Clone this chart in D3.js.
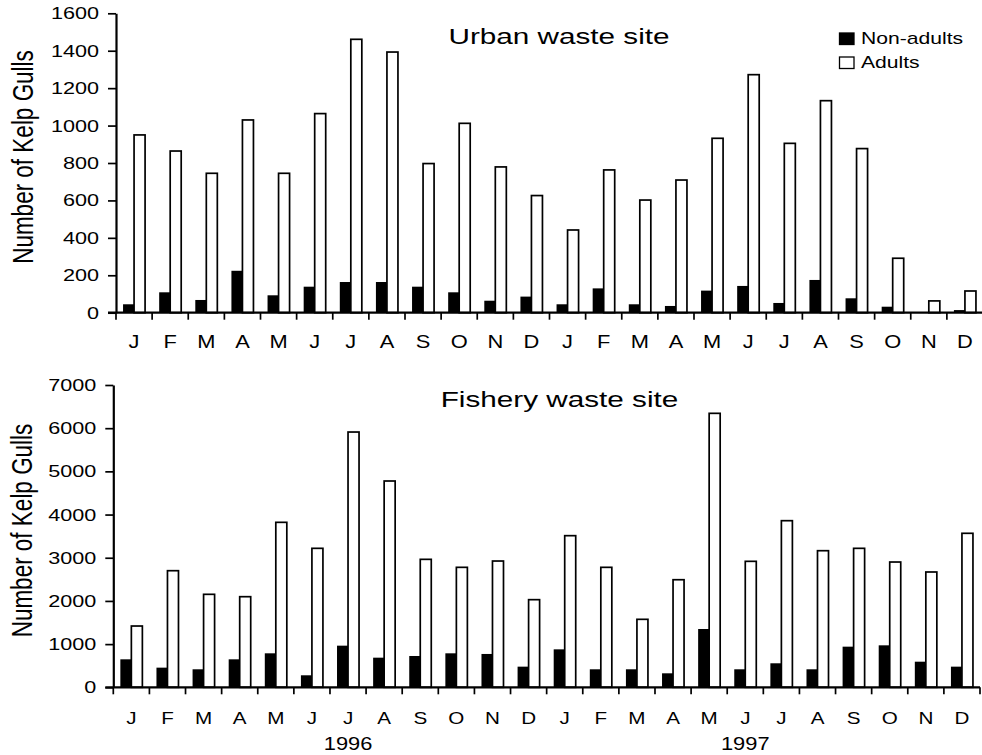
<!DOCTYPE html>
<html>
<head>
<meta charset="utf-8">
<script src="https://cdn.jsdelivr.net/npm/d3@7"></script>
<style>
  body { margin: 0; background: #fff; }
  svg { display: block; font-family: "Liberation Sans", Arial, sans-serif; }
</style>
</head>
<body>
<svg width="982" height="755"></svg>
<script>
// months over two years (1996, 1997)
var months = ["J","F","M","A","M","J","J","A","S","O","N","D",
              "J","F","M","A","M","J","J","A","S","O","N","D"];
var series = ["Non-adults", "Adults"];

var urbanNonAdults = [45,109,68,224,93,139,164,164,139,109,64,86,
                      45,130,45,36,118,143,52,175,77,32,0,14];
var urbanAdults = [950,864,745,1030,745,1064,1461,1393,797,1012,779,626,
                   442,763,602,709,932,1272,905,1133,877,291,63,116];

var fisheryNonAdults = [648,455,417,648,787,278,964,686,725,787,772,478,
                        879,417,417,324,1350,417,556,417,941,972,593,478];
var fisheryAdults = [1419,2700,2153,2098,3820,3218,5911,4777,2963,2778,2924,2029,
                     3511,2778,1574,2491,6344,2917,3858,3163,3218,2901,2670,3566];

var urbanTicks = [0,200,400,600,800,1000,1200,1400,1600];
var fisheryTicks = [0,1000,2000,3000,4000,5000,6000,7000];
var years = [{label: "1996", at: 6}, {label: "1997", at: 17}];

var svg = d3.select("svg");
var SX = 1.25; // the figure is stretched sideways, text too

function drawPanel(opt) {
  var g = svg.append("g");
  var idx = d3.range(months.length);

  var x = d3.scaleBand().domain(idx).range([opt.left, opt.right]);
  var inner = d3.scaleBand().domain(series).range([0, x.bandwidth()]).paddingOuter(0.64);
  var y = d3.scaleLinear().domain([0, opt.max]).range([opt.bottom, opt.top]);

  // bars
  var groups = g.selectAll("g.month")
    .data(idx)
    .enter().append("g")
    .attr("class", "month")
    .attr("transform", function(i) { return "translate(" + x(i) + ",0)"; });

  groups.append("rect")
    .attr("x", inner("Non-adults"))
    .attr("width", inner.bandwidth())
    .attr("y", function(i) { return y(opt.non[i]); })
    .attr("height", function(i) { return y(0) - y(opt.non[i]); })
    .attr("fill", "#000");

  groups.append("rect")
    .attr("x", inner("Adults"))
    .attr("width", inner.bandwidth())
    .attr("y", function(i) { return y(opt.adult[i]); })
    .attr("height", function(i) { return y(0) - y(opt.adult[i]); })
    .attr("fill", "#fff")
    .attr("stroke", "#000")
    .attr("stroke-width", 1.7);

  // y axis
  var yAxis = g.append("g")
    .attr("transform", "translate(" + opt.left + ",0)")
    .call(d3.axisLeft(y).tickValues(opt.ticks).tickFormat(d3.format("d"))
      .tickSize(8).tickSizeOuter(0).tickPadding(9));
  yAxis.select(".domain").attr("stroke-width", 2.2);
  yAxis.selectAll(".tick line").attr("stroke-width", 1.7);
  yAxis.selectAll(".tick text")
    .attr("font-size", 17.3)
    .attr("fill", "#000")
    .attr("x", -17 / SX)
    .attr("transform", "scale(" + SX + ",1)");

  // x axis: ticks on the month boundaries
  g.append("line")
    .attr("x1", opt.left - 8).attr("x2", opt.right)
    .attr("y1", y(0)).attr("y2", y(0))
    .attr("stroke", "#000").attr("stroke-width", 2.2);
  g.selectAll("line.xtick")
    .data(d3.range(months.length + 1))
    .enter().append("line")
    .attr("class", "xtick")
    .attr("x1", function(i) { return opt.left + i * x.step(); })
    .attr("x2", function(i) { return opt.left + i * x.step(); })
    .attr("y1", y(0)).attr("y2", y(0) + 7)
    .attr("stroke", "#000").attr("stroke-width", 1.7);

  g.selectAll("text.month")
    .data(idx)
    .enter().append("text")
    .attr("class", "month")
    .attr("text-anchor", "middle")
    .attr("font-size", opt.monthSize)
    .attr("fill", "#000")
    .attr("transform", function(i) {
      return "translate(" + (x(i) + x.bandwidth() / 2) + "," + opt.monthY + ") scale(" + SX + ",1)";
    })
    .text(function(i) { return months[i]; });

  // y axis title
  g.append("text")
    .attr("text-anchor", "middle")
    .attr("font-size", 22.5)
    .attr("fill", "#000")
    .attr("transform", "translate(" + opt.labelX + "," + opt.labelY + ") scale(1.27,1) rotate(-90)")
    .text("Number of Kelp Gulls");

  // panel title
  g.append("text")
    .attr("text-anchor", "middle")
    .attr("font-size", 22)
    .attr("fill", "#000")
    .attr("transform", "translate(" + opt.titleX + "," + opt.titleY + ") scale(1.35,1)")
    .text(opt.title);

  return x;
}

drawPanel({
  title: "Urban waste site", titleX: 559, titleY: 44,
  left: 116, right: 983, top: 13.3, bottom: 312.7, max: 1600,
  ticks: urbanTicks, non: urbanNonAdults, adult: urbanAdults,
  monthY: 348, monthSize: 17.5, labelX: 33, labelY: 157
});

var xb = drawPanel({
  title: "Fishery waste site", titleX: 559.5, titleY: 407.3,
  left: 113.3, right: 980, top: 385, bottom: 687.3, max: 7000,
  ticks: fisheryTicks, non: fisheryNonAdults, adult: fisheryAdults,
  monthY: 723.5, monthSize: 16.5, labelX: 32, labelY: 530.5
});

svg.selectAll("text.year")
  .data(years)
  .enter().append("text")
  .attr("class", "year")
  .attr("text-anchor", "middle")
  .attr("font-size", 17.5)
  .attr("fill", "#000")
  .attr("transform", function(d) {
    return "translate(" + (xb(d.at) + xb.bandwidth() / 2) + ",750) scale(" + SX + ",1)";
  })
  .text(function(d) { return d.label; });

// legend
var legend = svg.append("g").attr("transform", "translate(839.5,0)");
var legendItems = legend.selectAll("g")
  .data(series)
  .enter().append("g")
  .attr("transform", function(d, i) { return "translate(0," + (33 + i * 24) + ")"; });
legendItems.append("rect")
  .attr("width", 14.5).attr("height", 11.5)
  .attr("fill", function(d) { return d == "Non-adults" ? "#000" : "#fff"; })
  .attr("stroke", "#000").attr("stroke-width", 1.3);
legendItems.append("text")
  .attr("font-size", 16)
  .attr("fill", "#000")
  .attr("transform", "translate(21.5,11.3) scale(1.32,1)")
  .text(function(d) { return d; });
</script>
</body>
</html>
